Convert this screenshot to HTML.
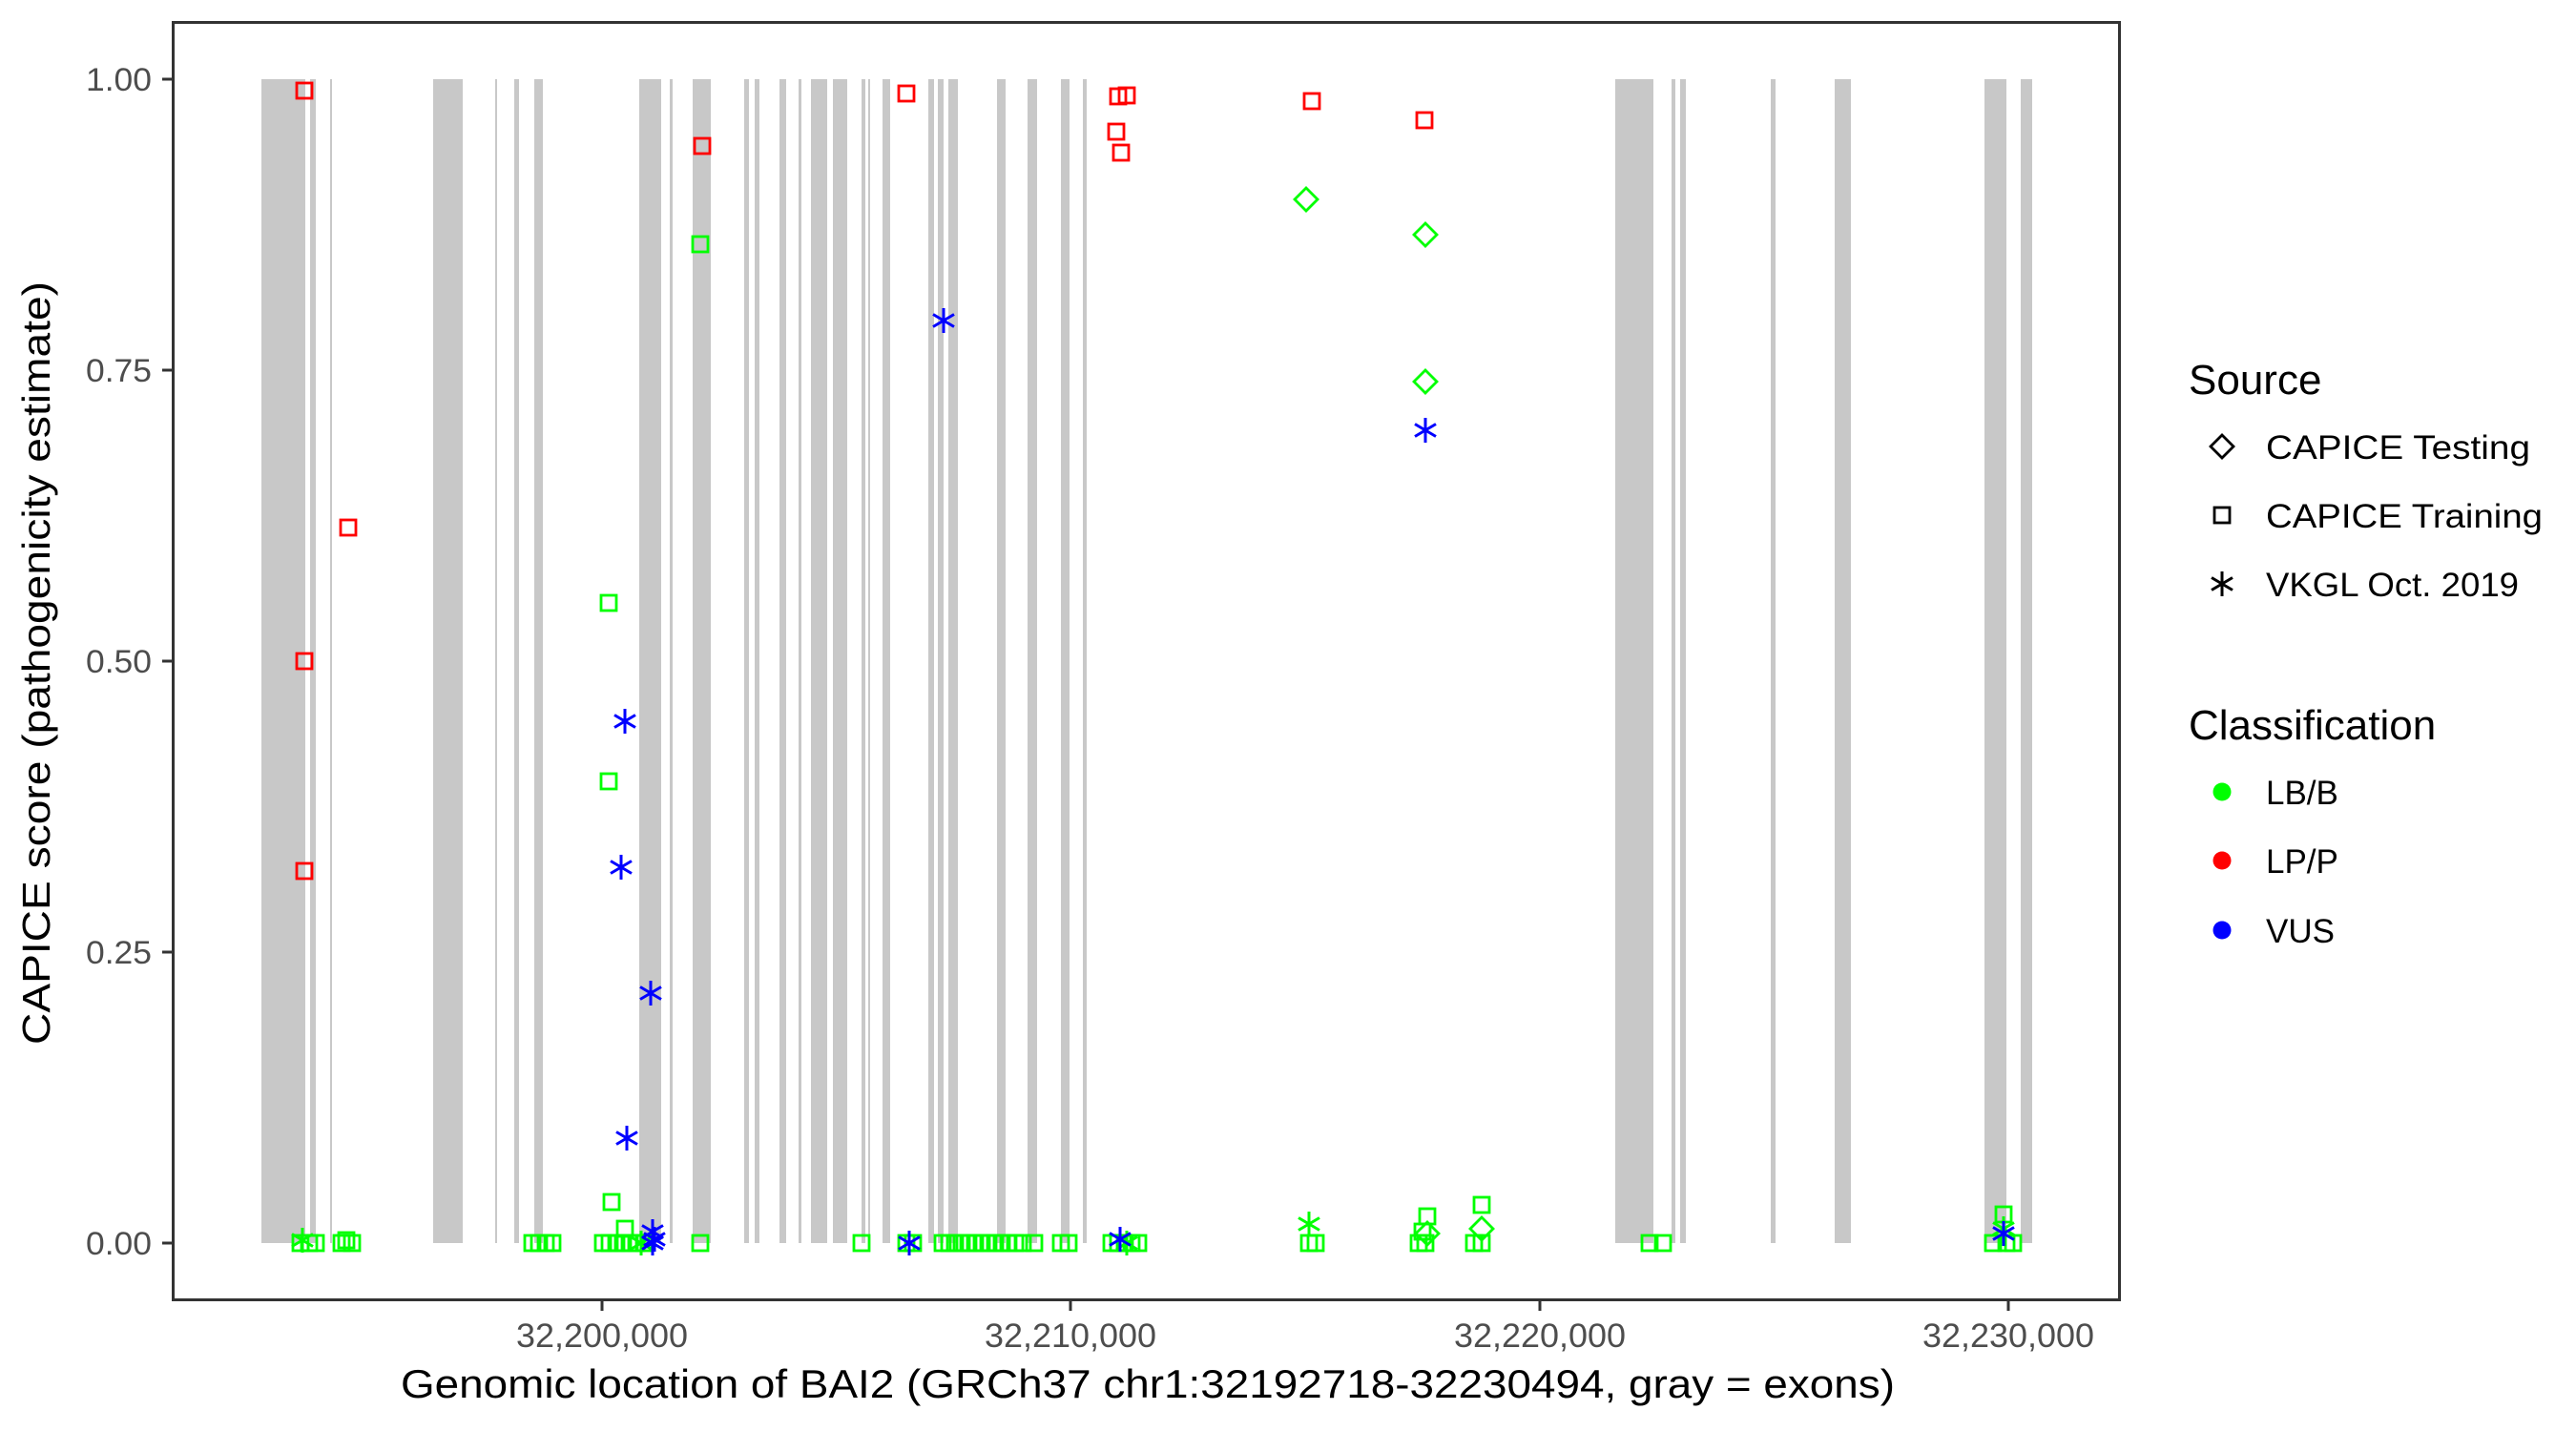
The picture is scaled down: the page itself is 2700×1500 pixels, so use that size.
<!DOCTYPE html>
<html><head><meta charset="utf-8"><style>html,body{margin:0;padding:0;background:#fff}svg{display:block}</style></head>
<body>
<svg width="2700" height="1500" viewBox="0 0 2700 1500" xmlns="http://www.w3.org/2000/svg" font-family="Liberation Sans, Arial, sans-serif">
<defs>
<g id="sq" fill="none" stroke-width="2.8"><rect x="-8" y="-8" width="16" height="16"/></g>
<g id="di" fill="none" stroke-width="2.8"><path d="M0,-12 L12,0 L0,12 L-12,0 Z"/></g>
<g id="as" fill="none" stroke-width="3"><path d="M0,-13V13M-11,-6.5L11,6.5M-11,6.5L11,-6.5"/></g>
</defs>
<rect x="181.5" y="23.5" width="2040" height="1339" fill="#fff"/>
<g fill="#c8c8c8">
<rect x="274" y="83" width="46" height="1220"/><rect x="325" y="83" width="6" height="1220"/><rect x="346" y="83" width="2" height="1220"/>
<rect x="454" y="83" width="31" height="1220"/><rect x="519" y="83" width="2" height="1220"/><rect x="539" y="83" width="5" height="1220"/><rect x="560" y="83" width="9" height="1220"/>
<rect x="670" y="83" width="23" height="1220"/><rect x="702" y="83" width="3" height="1220"/><rect x="726" y="83" width="19" height="1220"/>
<rect x="780" y="83" width="5" height="1220"/><rect x="791" y="83" width="5" height="1220"/><rect x="817" y="83" width="7" height="1220"/><rect x="837" y="83" width="3" height="1220"/>
<rect x="850" y="83" width="17" height="1220"/><rect x="873" y="83" width="15" height="1220"/><rect x="903" y="83" width="4" height="1220"/><rect x="910" y="83" width="2" height="1220"/><rect x="925" y="83" width="8" height="1220"/>
<rect x="973" y="83" width="6" height="1220"/><rect x="983" y="83" width="6" height="1220"/><rect x="994" y="83" width="10" height="1220"/><rect x="1045" y="83" width="9" height="1220"/><rect x="1077" y="83" width="10" height="1220"/><rect x="1112" y="83" width="9" height="1220"/><rect x="1135" y="83" width="4" height="1220"/>
<rect x="1693" y="83" width="40" height="1220"/><rect x="1752" y="83" width="4" height="1220"/><rect x="1761" y="83" width="6" height="1220"/>
<rect x="1856" y="83" width="5" height="1220"/><rect x="1923" y="83" width="17" height="1220"/><rect x="2080" y="83" width="23" height="1220"/><rect x="2118" y="83" width="12" height="1220"/>
</g>
<g stroke="#00ff00">
<use href="#sq" x="315" y="1303"/><use href="#sq" x="324" y="1303"/><use href="#sq" x="331" y="1303"/><use href="#sq" x="358" y="1303"/><use href="#sq" x="363" y="1300"/><use href="#sq" x="369" y="1303"/>
<use href="#sq" x="558" y="1303"/><use href="#sq" x="565" y="1303"/><use href="#sq" x="572" y="1303"/><use href="#sq" x="579" y="1303"/>
<use href="#sq" x="632" y="1303"/><use href="#sq" x="639" y="1303"/><use href="#sq" x="646" y="1303"/><use href="#sq" x="653" y="1303"/><use href="#sq" x="660" y="1303"/><use href="#sq" x="667" y="1303"/><use href="#sq" x="675" y="1303"/>
<use href="#sq" x="734" y="1303"/><use href="#sq" x="903" y="1303"/><use href="#sq" x="950" y="1303"/><use href="#sq" x="957" y="1303"/>
<use href="#sq" x="988" y="1303"/><use href="#sq" x="995" y="1303"/><use href="#sq" x="1001" y="1303"/><use href="#sq" x="1008" y="1303"/><use href="#sq" x="1015" y="1303"/><use href="#sq" x="1022" y="1303"/><use href="#sq" x="1029" y="1303"/><use href="#sq" x="1036" y="1303"/><use href="#sq" x="1043" y="1303"/><use href="#sq" x="1050" y="1303"/><use href="#sq" x="1057" y="1303"/><use href="#sq" x="1064" y="1303"/><use href="#sq" x="1072" y="1303"/><use href="#sq" x="1084" y="1303"/>
<use href="#sq" x="1112" y="1303"/><use href="#sq" x="1120" y="1303"/>
<use href="#sq" x="1165" y="1303"/><use href="#sq" x="1172" y="1303"/><use href="#sq" x="1179" y="1303"/><use href="#sq" x="1186" y="1303"/><use href="#sq" x="1193" y="1303"/>
<use href="#sq" x="1372" y="1303"/><use href="#sq" x="1379" y="1303"/><use href="#sq" x="1487" y="1303"/><use href="#sq" x="1494" y="1303"/><use href="#sq" x="1545" y="1303"/><use href="#sq" x="1553" y="1303"/>
<use href="#sq" x="1729" y="1303"/><use href="#sq" x="1743" y="1303"/><use href="#sq" x="2089" y="1303"/><use href="#sq" x="2103" y="1303"/><use href="#sq" x="2110" y="1303"/>
<use href="#sq" x="734" y="256"/><use href="#sq" x="638" y="632"/><use href="#sq" x="638" y="819"/><use href="#sq" x="641" y="1260"/><use href="#sq" x="655" y="1288"/>
<use href="#sq" x="1496" y="1275"/><use href="#sq" x="1553" y="1263"/><use href="#sq" x="2100" y="1273"/><use href="#sq" x="1491" y="1291"/>
<use href="#di" x="1369" y="209"/><use href="#di" x="1494" y="246"/><use href="#di" x="1494" y="400"/><use href="#di" x="1496" y="1293"/><use href="#di" x="1553" y="1288"/>
<use href="#as" x="1372" y="1283"/><use href="#as" x="317" y="1300"/><use href="#as" x="2100" y="1288"/><use href="#as" x="1181" y="1303"/><use href="#as" x="672" y="1303"/>
</g>
<g stroke="#ff0000">
<use href="#sq" x="319" y="95"/><use href="#sq" x="319" y="693"/><use href="#sq" x="319" y="913"/><use href="#sq" x="365" y="553"/><use href="#sq" x="736" y="153"/><use href="#sq" x="950" y="98"/>
<use href="#sq" x="1170" y="138"/><use href="#sq" x="1172" y="101"/><use href="#sq" x="1181" y="100"/><use href="#sq" x="1175" y="160"/><use href="#sq" x="1375" y="106"/><use href="#sq" x="1493" y="126"/>
</g>
<g stroke="#0000ff">
<use href="#as" x="989" y="336"/><use href="#as" x="1494" y="451"/><use href="#as" x="655" y="756"/><use href="#as" x="651" y="909"/><use href="#as" x="682" y="1041"/><use href="#as" x="657" y="1193"/>
<use href="#as" x="684" y="1291"/><use href="#as" x="686" y="1299"/><use href="#as" x="684" y="1303"/><use href="#as" x="953" y="1303"/><use href="#as" x="1174" y="1299"/><use href="#as" x="2100" y="1293"/>
</g>
<rect x="181.5" y="23.5" width="2040" height="1339" fill="none" stroke="#333" stroke-width="3"/>
<g stroke="#333" stroke-width="3">
<path d="M170,83H181M170,388H181M170,693H181M170,998H181M170,1303H181"/>
<path d="M631,1363V1374M1122,1363V1374M1614,1363V1374M2105,1363V1374"/>
</g>
<g fill="#4d4d4d" font-size="34" text-anchor="end">
<text x="159" y="95" textLength="69" lengthAdjust="spacingAndGlyphs">1.00</text><text x="159" y="400" textLength="69" lengthAdjust="spacingAndGlyphs">0.75</text><text x="159" y="705" textLength="69" lengthAdjust="spacingAndGlyphs">0.50</text><text x="159" y="1010" textLength="69" lengthAdjust="spacingAndGlyphs">0.25</text><text x="159" y="1315" textLength="69" lengthAdjust="spacingAndGlyphs">0.00</text>
</g>
<g fill="#4d4d4d" font-size="35" text-anchor="middle">
<text x="631" y="1412" textLength="180" lengthAdjust="spacingAndGlyphs">32,200,000</text><text x="1122" y="1412" textLength="180" lengthAdjust="spacingAndGlyphs">32,210,000</text><text x="1614" y="1412" textLength="180" lengthAdjust="spacingAndGlyphs">32,220,000</text><text x="2105" y="1412" textLength="180" lengthAdjust="spacingAndGlyphs">32,230,000</text>
</g>
<text x="420" y="1465" font-size="42" textLength="1566" lengthAdjust="spacingAndGlyphs">Genomic location of BAI2 (GRCh37 chr1:32192718-32230494, gray = exons)</text>
<text transform="translate(52,695) rotate(-90)" font-size="41" text-anchor="middle" textLength="800" lengthAdjust="spacingAndGlyphs">CAPICE score (pathogenicity estimate)</text>
<text x="2294" y="413" font-size="44">Source</text>
<g stroke="#000"><use href="#di" x="2329" y="468"/><use href="#sq" x="2329" y="540"/><use href="#as" x="2329" y="612"/></g>
<g font-size="35">
<text x="2375" y="481" textLength="277" lengthAdjust="spacingAndGlyphs">CAPICE Testing</text><text x="2375" y="553" textLength="290" lengthAdjust="spacingAndGlyphs">CAPICE Training</text><text x="2375" y="625" textLength="265" lengthAdjust="spacingAndGlyphs">VKGL Oct. 2019</text>
</g>
<text x="2294" y="775" font-size="44">Classification</text>
<circle cx="2329" cy="830" r="9.5" fill="#00ff00"/><circle cx="2329" cy="902" r="9.5" fill="#ff0000"/><circle cx="2329" cy="975" r="9.5" fill="#0000ff"/>
<g font-size="35"><text x="2375" y="843">LB/B</text><text x="2375" y="915">LP/P</text><text x="2375" y="988">VUS</text></g>
</svg>
</body></html>
